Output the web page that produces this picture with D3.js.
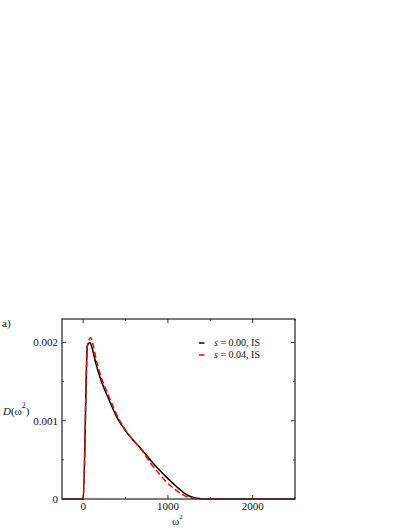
<!DOCTYPE html>
<html>
<head>
<meta charset="utf-8">
<script src="https://cdn.jsdelivr.net/npm/d3@7"></script>
<style>
  body { margin: 0; background: #fff; }
  text { font-family: "Liberation Serif", "DejaVu Serif", serif; }
</style>
</head>
<body>
<div id="chart"></div>
<script>
// omega^2 sample points and density values
const omegaBlack = [-250, 0, 50, 80, 100, 150, 200, 300, 400, 500, 600, 700, 800, 900, 1000, 1100, 1200, 1300, 1400, 1500, 2500];
const densBlack = [0, 0, 0.00196, 0.0020, 0.00195, 0.00173, 0.00155, 0.00128, 0.00104, 0.00087, 0.00074, 0.00062, 0.00049, 0.00037, 0.00026, 0.00016, 0.00007, 0.00002, 0.000004, 0, 0];
const omegaRed = [-250, 0, 50, 90, 110, 150, 200, 300, 400, 500, 600, 700, 800, 900, 1000, 1100, 1200, 1300, 1400, 2500];
const densRed = [0, 0, 0.00197, 0.00206, 0.00200, 0.00180, 0.00160, 0.00132, 0.00107, 0.00088, 0.00074, 0.00061, 0.00045, 0.00032, 0.00020, 0.00011, 0.00004, 0.00001, 0, 0];
const seriesLabels = ["= 0.00, IS", "= 0.04, IS"];
const xTicks = [0, 1000, 2000];
const xMinor = [500, 1500, 2500];
const yTicks = [0, 0.001, 0.002];
const yTickLabels = ["0", "0.001", "0.002"];
const yMinor = [0.0005, 0.0015];

const width = 409, height = 529;
const margin = { top: 319, right: 114, bottom: 30, left: 62 };

const svg = d3.select("#chart").append("svg")
  .attr("width", width).attr("height", height);

const x = d3.scaleLinear().domain([-250, 2500]).range([margin.left, width - margin.right]);
const y = d3.scaleLinear().domain([0, 0.0023]).range([height - margin.bottom, margin.top]);

const x0 = x.range()[0], x1 = x.range()[1];
const y0 = y.range()[0], y1 = y.range()[1];

// tick marks pointing inward on all four sides
const tickG = svg.append("g").attr("stroke", "#333").attr("stroke-width", 1);
xTicks.forEach(t => {
  tickG.append("line").attr("x1", x(t)).attr("x2", x(t)).attr("y1", y0).attr("y2", y0 - 4);
  tickG.append("line").attr("x1", x(t)).attr("x2", x(t)).attr("y1", y1).attr("y2", y1 + 4);
});
xMinor.forEach(t => {
  tickG.append("line").attr("x1", x(t)).attr("x2", x(t)).attr("y1", y0).attr("y2", y0 - 2);
  tickG.append("line").attr("x1", x(t)).attr("x2", x(t)).attr("y1", y1).attr("y2", y1 + 2);
});
yTicks.forEach(t => {
  tickG.append("line").attr("x1", x0).attr("x2", x0 + 4).attr("y1", y(t)).attr("y2", y(t));
  tickG.append("line").attr("x1", x1).attr("x2", x1 - 4).attr("y1", y(t)).attr("y2", y(t));
});
yMinor.forEach(t => {
  tickG.append("line").attr("x1", x0).attr("x2", x0 + 2).attr("y1", y(t)).attr("y2", y(t));
  tickG.append("line").attr("x1", x1).attr("x2", x1 - 2).attr("y1", y(t)).attr("y2", y(t));
});

// tick labels
svg.selectAll("text.xt").data(xTicks).enter().append("text")
  .attr("class", "xt")
  .attr("x", d => x(d)).attr("y", y0 + 10.5)
  .attr("text-anchor", "middle").attr("font-size", "11px").attr("fill", "#111")
  .text(d => d);
svg.selectAll("text.yt").data(yTicks).enter().append("text")
  .attr("class", "yt")
  .attr("x", x0 - 4).attr("y", (d) => y(d) + 4)
  .attr("text-anchor", "end").attr("font-size", "11px").attr("fill", "#111")
  .text((d, i) => yTickLabels[i]);

// curves
const line = d3.line().x(d => x(d[0])).y(d => y(d[1])).curve(d3.curveMonotoneX);
const blackData = omegaBlack.map((w, i) => [w, densBlack[i]]);
const redData = omegaRed.map((w, i) => [w, densRed[i]]);

svg.append("path").datum(blackData)
  .attr("d", line).attr("fill", "none")
  .attr("stroke", "#000").attr("stroke-width", 1.5);
svg.append("path").datum(redData)
  .attr("d", line).attr("fill", "none")
  .attr("stroke", "#ff0000").attr("stroke-width", 1.5)
  .attr("stroke-dasharray", "6,3");

// frame
svg.append("rect")
  .attr("x", x0).attr("y", y1)
  .attr("width", x1 - x0).attr("height", y0 - y1)
  .attr("fill", "none").attr("stroke", "#333").attr("stroke-width", 1.3);

// legend (short single-dash samples)
const legend = svg.append("g").attr("font-size", "10px");
["#000", "#ff0000"].forEach((c, i) => {
  const ly = 346 + i * 12;
  legend.append("line")
    .attr("x1", 199).attr("x2", 204.5).attr("y1", ly - 3).attr("y2", ly - 3)
    .attr("stroke", c).attr("stroke-width", 1.5);
  const t = legend.append("text").attr("x", 214).attr("y", ly).attr("fill", "#111");
  t.append("tspan").attr("font-style", "italic").text("s");
  t.append("tspan").text(" " + seriesLabels[i]);
});

// axis titles
const yl = svg.append("text").attr("x", 3).attr("y", 415).attr("font-size", "11px").attr("fill", "#111");
yl.append("tspan").attr("font-style", "italic").text("D");
yl.append("tspan").text("(ω");
yl.append("tspan").attr("dy", -7).attr("font-size", "8px").text("2");
yl.append("tspan").attr("dy", 7).text(")");

const xl = svg.append("text").attr("x", 172).attr("y", 525).attr("font-size", "11px").attr("fill", "#111");
xl.append("tspan").text("ω");
xl.append("tspan").attr("dy", -6).attr("font-size", "7px").text("2");

svg.append("text").attr("x", 2).attr("y", 327).attr("font-size", "11px").attr("fill", "#111").text("a)");
</script>
</body>
</html>
